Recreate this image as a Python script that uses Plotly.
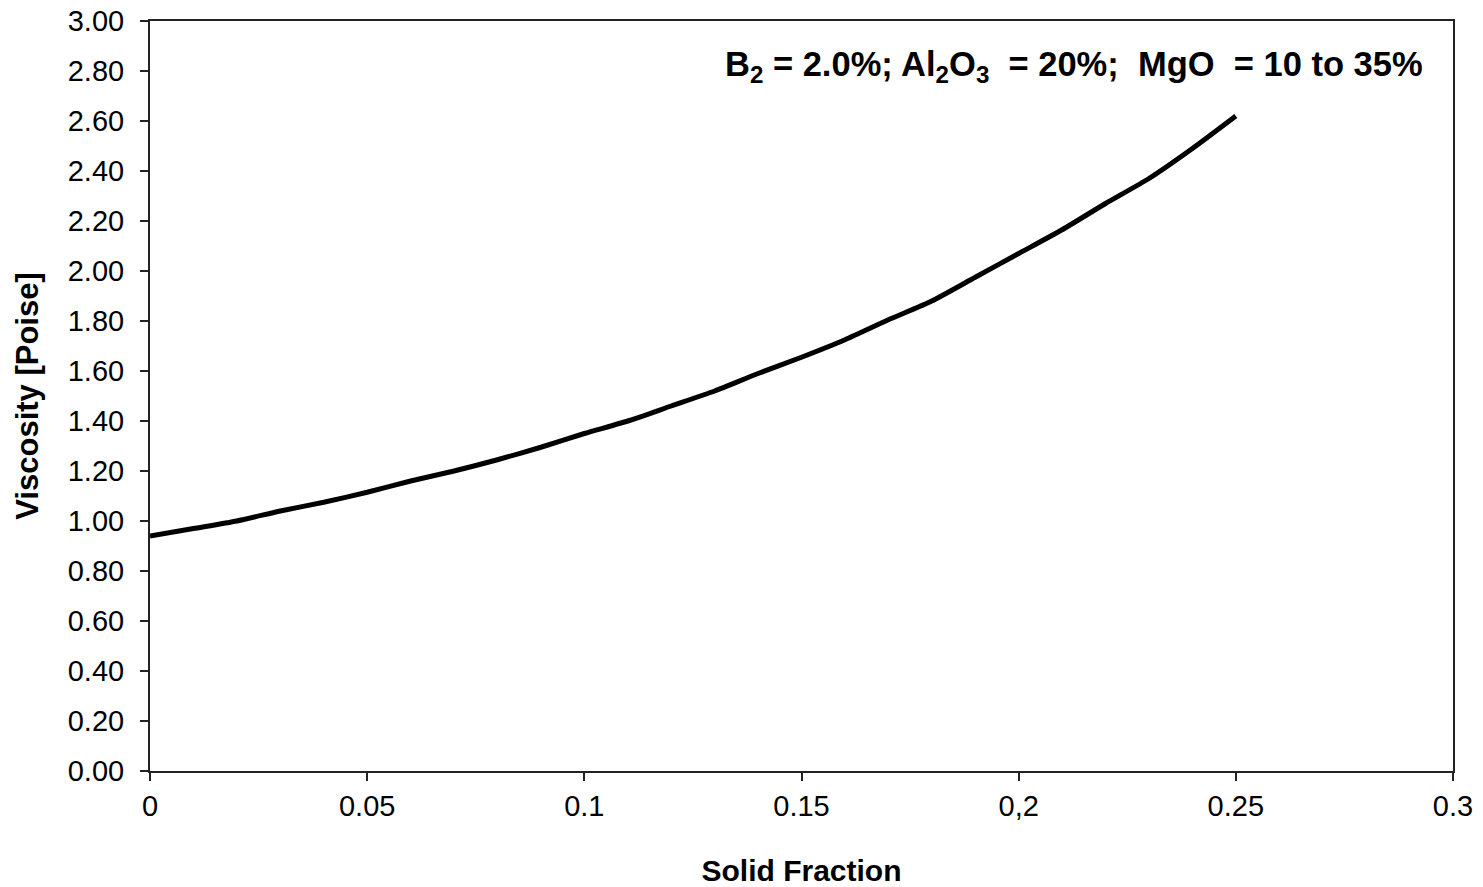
import plotly.graph_objects as go

solid_fraction = [0.00, 0.01, 0.02, 0.03, 0.04, 0.05, 0.06, 0.07, 0.08, 0.09,
                  0.10, 0.11, 0.12, 0.13, 0.14, 0.15, 0.16, 0.17, 0.18, 0.19,
                  0.20, 0.21, 0.22, 0.23, 0.24, 0.25]
viscosity = [0.94, 0.97, 1.00, 1.04, 1.075, 1.115, 1.16, 1.20, 1.245, 1.295,
             1.35, 1.40, 1.46, 1.52, 1.59, 1.655, 1.725, 1.805, 1.88, 1.975,
             2.07, 2.165, 2.27, 2.37, 2.49, 2.62]

x_tick_vals = [0, 0.05, 0.1, 0.15, 0.2, 0.25, 0.3]
x_tick_text = ["0", "0.05", "0.1", "0.15", "0,2", "0.25", "0.3"]
y_tick_vals = [0.0, 0.2, 0.4, 0.6, 0.8, 1.0, 1.2, 1.4, 1.6, 1.8, 2.0, 2.2, 2.4, 2.6, 2.8, 3.0]
y_tick_text = [f"{v:.2f}" for v in y_tick_vals]

annotation_text = ("<b>B<sub>2</sub> = 2.0%; Al<sub>2</sub>O<sub>3</sub>  = 20%;  "
                   "MgO  = 10 to 35%</b>")

FONT = "Liberation Sans, Arial, sans-serif"

fig = go.Figure()
fig.add_trace(go.Scatter(
    x=solid_fraction, y=viscosity, mode="lines",
    line=dict(color="black", width=5, shape="spline", smoothing=0.6),
    showlegend=False, hoverinfo="x+y",
))

axis_common = dict(
    showgrid=False, zeroline=False, showline=True, linecolor="#222222",
    linewidth=2, mirror=True, ticks="outside", ticklen=8, tickwidth=2,
    tickcolor="#222222", automargin=False, ticklabeloverflow="allow",
)

fig.update_xaxes(
    range=[0, 0.3], tickvals=x_tick_vals, ticktext=x_tick_text,
    tickfont=dict(family=FONT, size=29, color="black"),
    title=dict(text="<b>Solid Fraction</b>", standoff=45,
               font=dict(family=FONT, size=30, color="black")),
    **axis_common,
)
fig.update_yaxes(
    range=[0, 3.0], tickvals=y_tick_vals, ticktext=y_tick_text,
    tickfont=dict(family=FONT, size=29, color="black"),
    ticklabelstandoff=10,
    title=dict(text="<b>Viscosity [Poise]</b>", standoff=20,
               font=dict(family=FONT, size=31, color="black")),
    **axis_common,
)

fig.add_annotation(
    text=annotation_text, xref="paper", yref="paper", x=0.9785, y=0.94,
    xanchor="right", yanchor="middle", showarrow=False,
    font=dict(family=FONT, size=34.5, color="black"),
)

fig.update_layout(
    width=1483, height=887,
    margin=dict(l=150, r=30, t=21, b=116),
    plot_bgcolor="white", paper_bgcolor="white",
)

fig.write_html("out.html", config={"displayModeBar": False},
               post_script="document.body.style.margin='0';")
